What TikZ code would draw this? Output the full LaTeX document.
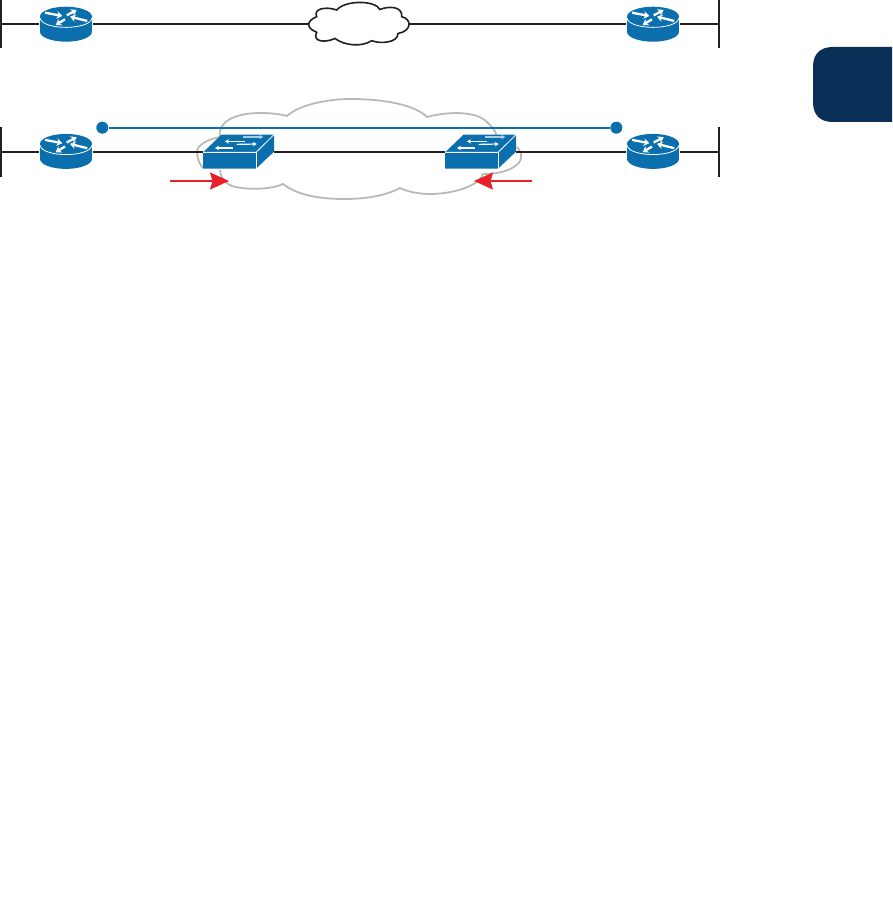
\documentclass[tikz,border=0pt]{standalone}
\usetikzlibrary{arrows.meta}
\definecolor{ciscoblue}{HTML}{0B6FAE}
\definecolor{tabnavy}{HTML}{0A2F57}
\definecolor{cloudgrey}{HTML}{B9B9B9}
\definecolor{inkblack}{HTML}{231F20}
\definecolor{arrowred}{HTML}{E8202A}
\tikzset{
  x=1pt,y=-1pt,
  wire/.style={draw=inkblack,line width=2pt},
  bus/.style={draw=inkblack,line width=2pt},
  overlay line/.style={draw=ciscoblue,line width=2pt},
  endpoint/.style={circle,fill=ciscoblue,inner sep=0pt,minimum size=12pt},
  devicebox/.style={inner sep=0pt,outer sep=0pt,minimum width=#1},
  routerbox/.style={devicebox=54pt,minimum height=35pt},
  switchbox/.style={devicebox=71pt,minimum height=34pt},
  cloudbox/.style={inner sep=0pt,outer sep=0pt,minimum width=100pt,minimum height=43pt},
  routerarrow/.style={draw=white,line width=2.3pt,-{Stealth[length=5.5pt,width=7.5pt]}},
  switcharrow/.style={draw=white,line width=1.2pt,-{Stealth[length=4pt,width=4.5pt]}},
  redarrow/.style={draw=arrowred,line width=1.7pt,-{Stealth[length=19pt,width=17pt,inset=2.5pt]}},
  greycloud/.style={draw=cloudgrey,line width=1.8pt},
}
\newcommand{\routericon}[3]{%
  \node[routerbox] (#1) at (#2,#3) {};
  \begin{scope}[shift={(#2,#3)}]
    \fill[ciscoblue] (-26,-8) rectangle (26,7.2);
    \fill[ciscoblue] (0,7.2) ellipse [x radius=26,y radius=10];
    \fill[ciscoblue] (0,-7.8) ellipse [x radius=26,y radius=10];
    \draw[white,line width=.8pt] (-26,-6.5) .. controls (-24,6) and (24,6) .. (26,-6.5);
    \draw[routerarrow] (-21,-11.8) -- (-3.7,-8.5);
    \draw[routerarrow] (.7,-9.2) -- (10.7,-14.5);
    \draw[routerarrow] (-1,-5.2) -- (-10.3,.5);
    \draw[routerarrow] (21.3,-3.5) -- (4,-7.8);
  \end{scope}}
\newcommand{\switchicon}[3]{%
  \begin{scope}[shift={(#2,#3)}]
    \fill[ciscoblue] (-35.5,.7) -- (-17,-17) -- (35.5,-17) -- (35.5,0) -- (17.5,17) -- (-35.5,17) -- cycle;
    \draw[white,line width=.8pt,line join=round] (-35.5,.7) -- (17.5,.7) -- (35.5,-17);
    \draw[white,line width=.8pt] (17.5,.7) -- (17.5,17);
    \draw[switcharrow,draw=white!65!ciscoblue] (4.8,-14.7) -- (24.8,-14.7);
    \draw[switcharrow] (6.5,-10.3) -- (-13.5,-10.3);
    \draw[switcharrow] (-1.8,-7.3) -- (18.2,-7.7);
    \draw[switcharrow] (-5.2,-3.7) -- (-23.5,-3.7);
  \end{scope}}
\begin{document}
\begin{tikzpicture}
\useasboundingbox (0,0) rectangle (892,901);

% side tab
\fill[tabnavy] (892,47) -- (833,47) .. controls (820,47) and (813,54) .. (813,67)
  -- (813,102) .. controls (813,115) and (820,122) .. (833,122) -- (892,122) -- cycle;

% top row
\coordinate (busAtop) at (1,0);
\coordinate (busAbot) at (1,48);
\coordinate (busAmid) at (1,24.5);
\coordinate (busBtop) at (719,0);
\coordinate (busBbot) at (719,48);
\coordinate (busBmid) at (719,24.5);
\draw[bus] (busAtop) -- (busAbot);
\draw[bus] (busBtop) -- (busBbot);

\node[cloudbox] (wan) at (359,24.5) {};
\routericon{routerA}{66}{24.5}
\routericon{routerB}{653}{24.5}
\draw[wire] (busAmid) -- (routerA);
\draw[wire] (routerA) -- (wan);
\draw[wire] (wan) -- (routerB);
\draw[wire] (routerB) -- (busBmid);
\draw[draw=inkblack,line width=1.6pt,fill=white]
  (316.7,16.7) .. controls (313,9) and (325,6) .. (336.7,10)
  .. controls (345,0) and (375,0) .. (380,9.5)
  .. controls (388,6) and (403,6) .. (401.7,16.7)
  .. controls (412,19) and (412,31) .. (398,33.5)
  .. controls (398,43) and (380,44) .. (371.7,40.7)
  .. controls (362,47) and (345,46) .. (335,38.5)
  .. controls (325,43) and (312,42) .. (316.7,32.3)
  .. controls (306,28) and (306,21) .. (316.7,16.7) -- cycle;

% bottom row
\draw[greycloud]
  (220,137) .. controls (217,122) and (235,113) .. (260,113)
  .. controls (270,113) and (280,114) .. (287,116)
  .. controls (300,104) and (330,99) .. (350,99)
  .. controls (385,99) and (415,105) .. (427,117)
  .. controls (445,112) and (475,110) .. (487,122)
  .. controls (492,127) and (496,131) .. (496,135);
\draw[greycloud]
  (517,147) .. controls (524,155) and (522,163) .. (512,168)
  .. controls (505,172) and (495,174) .. (483,174)
  .. controls (480,185) and (455,194) .. (430,194)
  .. controls (420,194) and (408,192) .. (400,188)
  .. controls (385,196) and (365,199) .. (345,199)
  .. controls (325,199) and (300,197) .. (283,184)
  .. controls (270,190) and (245,190) .. (232,186)
  .. controls (225,183) and (220,177) .. (220,170);
\draw[greycloud]
  (220,137) .. controls (205,140) and (197,146) .. (197,152)
  .. controls (197,159) and (200,165) .. (203,168);

\coordinate (busCtop) at (1,127);
\coordinate (busCbot) at (1,177);
\coordinate (busCmid) at (1,151.7);
\coordinate (busDtop) at (719,127);
\coordinate (busDbot) at (719,177);
\coordinate (busDmid) at (719,151.7);
\draw[bus] (busCtop) -- (busCbot);
\draw[bus] (busDtop) -- (busDbot);

\node[endpoint] (dotL) at (102.3,127.7) {};
\node[endpoint] (dotR) at (616.3,127.7) {};
\draw[overlay line] (dotL) -- (dotR);

\routericon{routerC}{66}{151.7}
\routericon{routerD}{653}{151.7}
\node[switchbox] (swA) at (238.5,151.7) {};
\node[switchbox] (swB) at (480.5,151.7) {};
\draw[wire] (busCmid) -- (routerC);
\draw[wire] (routerC) -- (swA);
\draw[wire] (swA) -- (swB);
\draw[wire] (swB) -- (routerD);
\draw[wire] (routerD) -- (busDmid);
\switchicon{swA}{238.5}{151.7}
\switchicon{swB}{480.5}{151.7}

% red arrows
\coordinate (redAs) at (170,181);
\coordinate (redAe) at (229,181);
\coordinate (redBs) at (532,181);
\coordinate (redBe) at (474,181);
\draw[redarrow] (redAs) -- (redAe);
\draw[redarrow] (redBs) -- (redBe);
\end{tikzpicture}
\end{document}
